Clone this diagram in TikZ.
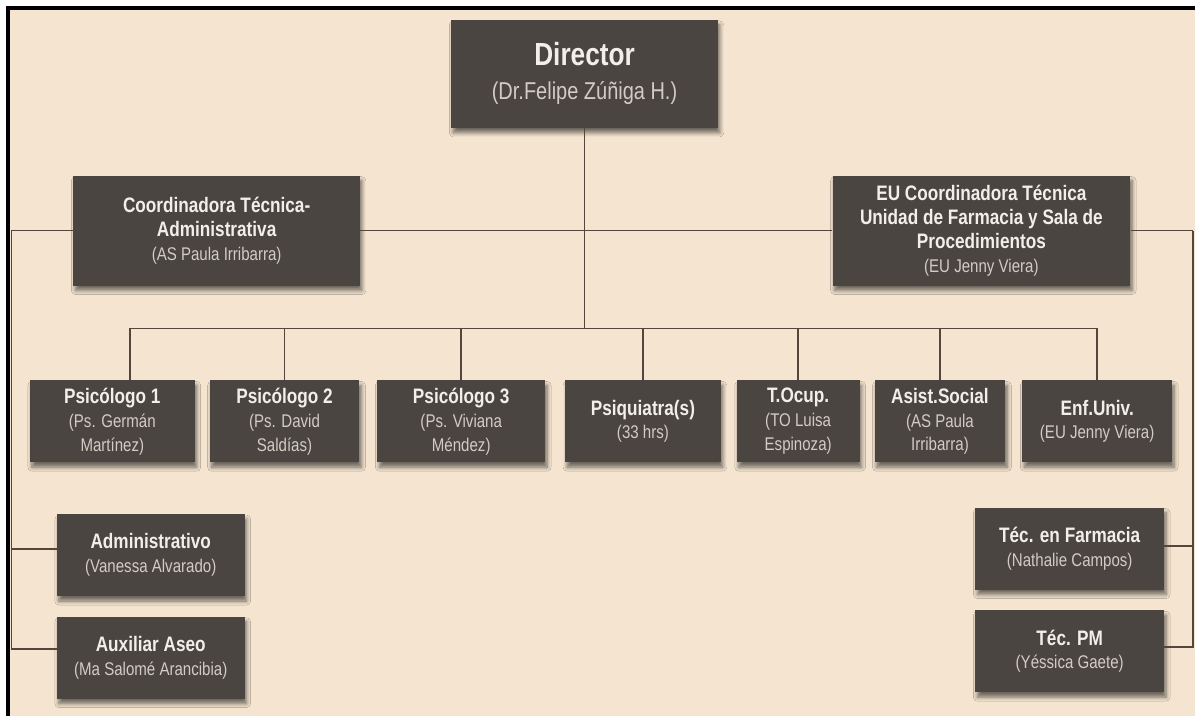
\documentclass[tikz,border=0pt]{standalone}
\usepackage{fontspec}
\setmainfont{Liberation Sans}[FakeStretch=0.82]
\usetikzlibrary{positioning,shadows.blur}
\definecolor{chartbg}{RGB}{244,228,208}
\definecolor{boxbrown}{RGB}{74,69,65}
\definecolor{titlewhite}{RGB}{242,238,232}
\definecolor{namegray}{RGB}{211,204,196}
\definecolor{linebrown}{RGB}{84,70,58}
\newcommand{\orgtitle}[1]{{\bfseries\fontsize{10.5}{12}\selectfont #1}}
\newcommand{\orgname}[1]{{\color{namegray}#1}}

\begin{document}
\begin{tikzpicture}[
        x=0.5pt, y=-0.5pt,
        node distance=10pt,
        % dark boxes with a soft shadow, as in the printed chart
        box/.style={rectangle, fill=boxbrown, text=titlewhite, inner sep=2pt,
            minimum width=#1,
            minimum height=41pt,
            align=center, font=\fontsize{9.2}{12}\selectfont,
            blur shadow={shadow xshift=1pt, shadow yshift=-2.5pt, shadow blur radius=2pt,
                shadow blur steps=6, shadow opacity=55}},
        box/.default=80pt,
        link/.style={draw=linebrown, line width=0.85pt}
    ]
        % paper and frame
        \fill[white] (0,0) rectangle (1197,717);
        \fill[chartbg] (8,8) rectangle (1197,717);
        \draw[black, line width=2pt] (8,717) -- (8,8) -- (1197,8);

        \node[box=133.5pt, minimum height=54pt, font=\fontsize{12.2}{17}\selectfont] (director) at (585.5,74)
            {{\bfseries\fontsize{16}{17}\selectfont Director}\\\orgname{(Dr.Felipe Zúñiga H.)}};
        \node[box=143.5pt, minimum height=55pt] (coordadm) at (217,231)
            {\orgtitle{Coordinadora Técnica-}\\\orgtitle{Administrativa}\\\orgname{(AS Paula Irribarra)}};
        \node[box=149pt, minimum height=55pt] (eu) at (983,231)
            {\orgtitle{EU Coordinadora Técnica}\\\orgtitle{Unidad de Farmacia y Sala de}\\\orgtitle{Procedimientos}\\\orgname{(EU Jenny Viera)}};

        % staff row
        \node[box=82.5pt] (psi1) at (112.5,422) {\orgtitle{Psicólogo 1}\\\orgname{(Ps. Germán}\\\orgname{Martínez)}};
        \node[box=75pt] (psi2) at (285,422) {\orgtitle{Psicólogo 2}\\\orgname{(Ps. David}\\\orgname{Saldías)}};
        \node[box=84pt] (psi3) at (462,422) {\orgtitle{Psicólogo 3}\\\orgname{(Ps. Viviana}\\\orgname{Méndez)}};
        \node[box=78pt] (psiq) at (644,422) {\orgtitle{Psiquiatra(s)}\\\orgname{(33 hrs)}};
        \node[box=61.5pt] (tocup) at (799.5,422) {\orgtitle{T.Ocup.}\\\orgname{(TO Luisa}\\\orgname{Espinoza)}};
        \node[box=65.5pt] (asist) at (941.5,422) {\orgtitle{Asist.Social}\\\orgname{(AS Paula}\\\orgname{Irribarra)}};
        \node[box=75pt] (enf) at (1099,422) {\orgtitle{Enf.Univ.}\\\orgname{(EU Jenny Viera)}};

        % support staff
        \node[box=94pt] (admin) at (151,556) {\orgtitle{Administrativo}\\\orgname{(Vanessa Alvarado)}};
        \node[box=94pt, below=10pt of admin] (aseo) {\orgtitle{Auxiliar Aseo}\\\orgname{(Ma Salomé Arancibia)}};
        \node[box=94.5pt] (tecfar) at (1071.5,549.5) {\orgtitle{Téc. en Farmacia}\\\orgname{(Nathalie Campos)}};
        \node[box=94.5pt, below=10pt of tecfar] (tecpm) {\orgtitle{Téc. PM}\\\orgname{(Yéssica Gaete)}};

        % Connections
        \coordinate (busl) at (130,329);
        \coordinate (railleft) at (11.5,231);
        \coordinate (railright) at (1195,231);
        \draw[link] (director.south) -- (director.south |- busl);
        \draw[link] (busl) -- (enf.north |- busl);
        \draw[link] (busl) -- (busl |- psi1.north);
        \foreach \n in {psi2,psi3,psiq,tocup,asist,enf}
            \draw[link] (\n.north |- busl) -- (\n.north);
        \draw[link] (railleft) -- (coordadm.west);
        \draw[link] (coordadm.east) -- (eu.west);
        \draw[link] (eu.east) -- (railright);
        \draw[link] (railleft) |- ([yshift=3pt]admin.west);
        \draw[link] (railleft) |- ([yshift=4.5pt]aseo.west);
        \draw[link] (railright) |- ([yshift=1.25pt]tecfar.east);
        \draw[link] (railright) |- ([yshift=2.25pt]tecpm.east);
    \end{tikzpicture}
\end{document}
